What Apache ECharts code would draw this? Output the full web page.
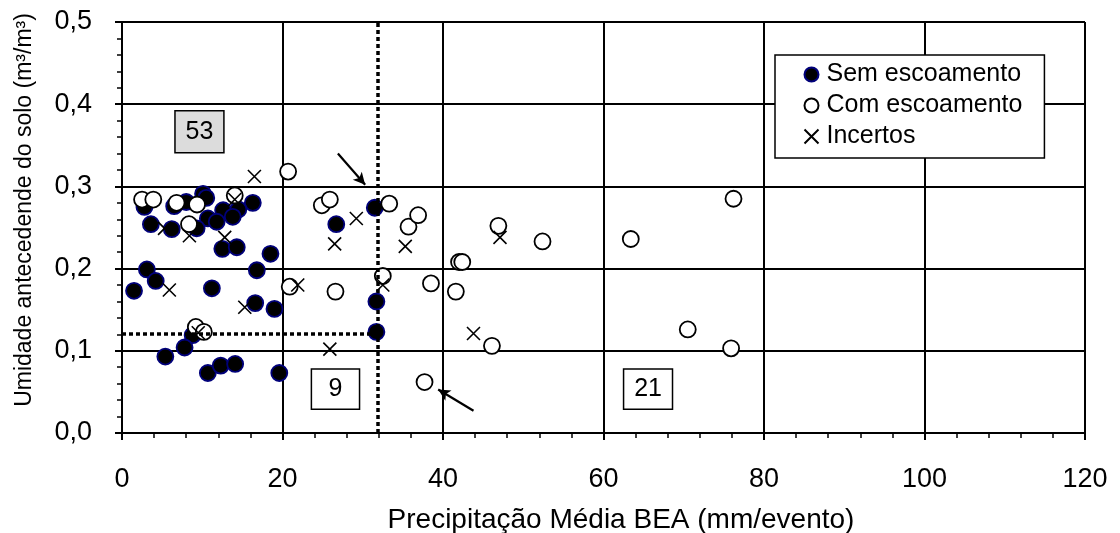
<!DOCTYPE html>
<html>
<head>
<meta charset="utf-8">
<script src="https://cdn.jsdelivr.net/npm/echarts@6/dist/echarts.min.js"></script>
<style>
  html, body { margin: 0; padding: 0; background: #fff; }
  #chart { width: 1120px; height: 533px; }
</style>
</head>
<body>
<div id="chart"></div>
<script>
// Event rainfall (mm/event) vs. antecedent soil moisture (m3/m3)
const semEscoamento = [
  [2.8, 0.275], [6.5, 0.276], [8.0, 0.281], [10.1, 0.291], [10.5, 0.286],
  [16.3, 0.280], [12.6, 0.271], [14.5, 0.272], [13.8, 0.263], [10.7, 0.261],
  [11.8, 0.257], [9.3, 0.249], [3.6, 0.254], [6.2, 0.248], [12.5, 0.224],
  [14.3, 0.226], [18.5, 0.218], [3.1, 0.199], [4.2, 0.185], [16.8, 0.198],
  [1.5, 0.173], [11.2, 0.176], [16.6, 0.158], [19.0, 0.151], [8.8, 0.119],
  [7.8, 0.104], [5.4, 0.093], [10.7, 0.073], [12.3, 0.082], [14.1, 0.084],
  [19.6, 0.073], [26.7, 0.254], [31.5, 0.274], [31.7, 0.160], [31.7, 0.123]
];
const comEscoamento = [
  [2.5, 0.284], [3.9, 0.284], [6.8, 0.280], [9.35, 0.278], [14.05, 0.289],
  [20.7, 0.318], [8.35, 0.254], [9.2, 0.129], [10.2, 0.123], [24.9, 0.277],
  [25.9, 0.284], [33.3, 0.279], [32.5, 0.191], [35.7, 0.251], [36.9, 0.265],
  [20.9, 0.178], [26.6, 0.172], [38.5, 0.182], [37.7, 0.062], [46.1, 0.106],
  [46.9, 0.252], [52.4, 0.233], [63.4, 0.236], [42.0, 0.208], [42.4, 0.208],
  [41.6, 0.172], [70.5, 0.126], [76.2, 0.285], [75.9, 0.103]
];
const incertos = [
  [16.5, 0.312], [14.05, 0.284], [5.3, 0.249], [8.4, 0.240], [12.8, 0.238],
  [5.9, 0.174], [15.3, 0.153], [9.5, 0.122], [21.9, 0.180], [29.2, 0.261],
  [26.5, 0.230], [32.5, 0.180], [35.3, 0.227], [25.9, 0.102], [43.8, 0.121],
  [47.1, 0.238]
];

// Thresholds: rainfall limit and moisture limit
const limiteChuva = 31.9;
const limiteUmidade = 0.121;

// Count boxes: [label, xFrom, yFrom, xTo, yTo, shaded]
const caixas = [
  ['53', 6.6, 0.392, 12.7, 0.341, true],
  ['9', 23.6, 0.078, 29.6, 0.029, false],
  ['21', 62.5, 0.078, 68.6, 0.029, false]
];
// Arrows: [fromX, fromY, toX, toY]
const setas = [
  [26.9, 0.340, 30.3, 0.302],
  [43.8, 0.027, 39.4, 0.053]
];

const xTicks = { min: 0, max: 120, interval: 20 };
const yTicks = { min: 0, max: 0.5, interval: 0.1 };

const FONT = 'Liberation Sans, Arial, sans-serif';
const chart = echarts.init(document.getElementById('chart'), null, { renderer: 'canvas' });

const axisCommon = {
  axisLine: { show: true, onZero: false, lineStyle: { color: '#000', width: 2 } },
  axisTick: { show: true, inside: false, length: 7, lineStyle: { color: '#000', width: 2 } },
  minorTick: { show: true, splitNumber: 5, length: 5, lineStyle: { color: '#000', width: 1.5 } },
  splitLine: { show: true, lineStyle: { color: '#000', width: 2 } },
  axisLabel: { color: '#000', fontFamily: FONT, fontSize: 27, margin: 30 }
};

const dotted = { color: '#000', width: 3.5, type: [4, 3] };

chart.setOption({
  animation: false,
  backgroundColor: '#fff',
  grid: { left: 122, right: 35, top: 22, bottom: 100, containLabel: false },
  xAxis: Object.assign({ type: 'value' }, xTicks, axisCommon, {
    axisLabel: Object.assign({}, axisCommon.axisLabel, { margin: 33 })
  }),
  yAxis: Object.assign({ type: 'value' }, yTicks, axisCommon, {
    axisLabel: Object.assign({}, axisCommon.axisLabel, {
      formatter: v => v.toFixed(1).replace('.', ',')
    })
  }),
  legend: {
    left: 775, top: 55,
    orient: 'vertical',
    backgroundColor: '#fff',
    borderColor: '#000', borderWidth: 1.5,
    padding: [7, 22, 9, 27],
    itemGap: 6,
    itemWidth: 14, itemHeight: 14,
    textStyle: { color: '#000', fontFamily: FONT, fontSize: 25, padding: [0, 0, 0, 3] },
    data: ['Sem escoamento', 'Com escoamento', 'Incertos']
  },
  graphic: [
    {
      type: 'text', x: 621, y: 520,
      style: { text: 'Precipitação Média BEA (mm/evento)', font: '28px ' + FONT, fill: '#000', align: 'center', verticalAlign: 'middle' }
    },
    {
      type: 'text', x: 25, y: 210, rotation: Math.PI / 2,
      style: { text: 'Umidade antecedende do solo (m³/m³)', font: '23px ' + FONT, fill: '#000', align: 'center', verticalAlign: 'middle' }
    }
  ],
  series: [
    {
      name: 'Sem escoamento', type: 'scatter', z: 3,
      symbol: 'circle', symbolSize: 16,
      itemStyle: { color: '#000', borderColor: '#00007a', borderWidth: 1.8, opacity: 1 },
      data: semEscoamento,
      markArea: {
        silent: true,
        label: { show: true, position: 'inside', color: '#000', fontFamily: FONT, fontSize: 25 },
        data: caixas.map(c => [
          { name: c[0], coord: [c[1], c[2]], itemStyle: { color: c[5] ? '#dcdcdc' : '#fff', borderColor: '#000', borderWidth: 1.5, opacity: 1 } },
          { coord: [c[3], c[4]] }
        ])
      },
      markLine: {
        silent: true,
        symbol: ['none', 'none'],
        label: { show: false },
        lineStyle: dotted,
        data: [
          [{ coord: [limiteChuva, yTicks.min] }, { coord: [limiteChuva, yTicks.max] }],
          [{ coord: [xTicks.min, limiteUmidade] }, { coord: [limiteChuva, limiteUmidade] }]
        ]
      }
    },
    {
      name: 'Com escoamento', type: 'scatter', z: 4,
      symbol: 'circle', symbolSize: 16,
      itemStyle: { color: '#fff', borderColor: '#000', borderWidth: 1.8, opacity: 1 },
      data: comEscoamento,
      markLine: {
        silent: true,
        symbol: ['none', 'arrow'],
        symbolSize: [9, 12],
        label: { show: false },
        lineStyle: { color: '#000', width: 2.2, type: 'solid' },
        data: setas.map(s => [{ coord: [s[0], s[1]] }, { coord: [s[2], s[3]] }])
      }
    },
    {
      name: 'Incertos', type: 'scatter', z: 5,
      symbol: 'path://M0,0L10,10M10,0L0,10', symbolSize: 13,
      itemStyle: { color: 'none', borderColor: '#000', borderWidth: 1.6, opacity: 1 },
      data: incertos
    }
  ]
});
</script>
</body>
</html>
